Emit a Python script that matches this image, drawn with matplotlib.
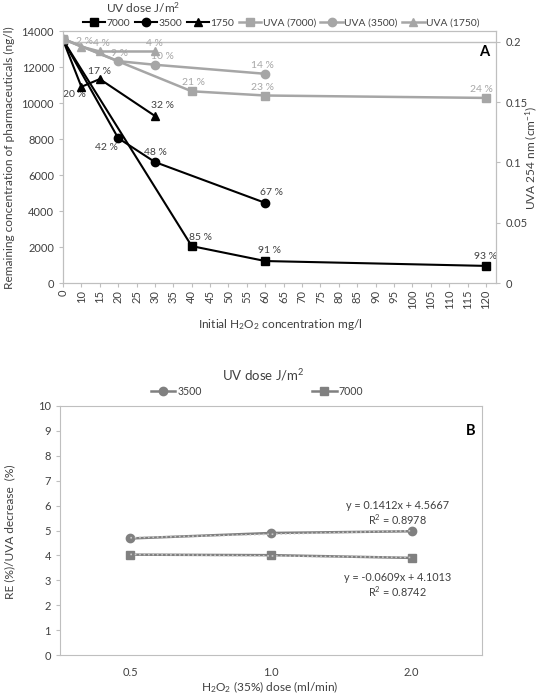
import matplotlib
matplotlib.use("Agg")
import matplotlib.pyplot as plt
from matplotlib.lines import Line2D

plt.rcParams['font.family'] = ['Lato', 'DejaVu Sans']
plt.rcParams['mathtext.fontset'] = 'custom'
plt.rcParams['mathtext.rm'] = 'Lato'
plt.rcParams['mathtext.it'] = 'Lato:italic'
plt.rcParams['mathtext.bf'] = 'Lato:bold'

# ---------------- data: panel A ----------------
cats_A = [0, 10, 15, 20, 25, 30, 35, 40, 45, 50, 55, 60, 65, 70, 75, 80, 85, 90,
          95, 100, 105, 110, 115, 120]

h2o2_7000 = [0, 40, 60, 120]
conc_7000 = [13500, 2050, 1220, 950]
lab_7000 = ['', '85 %', '91 %', '93 %']

h2o2_3500 = [0, 20, 30, 60]
conc_3500 = [13500, 8050, 6720, 4450]
lab_3500 = ['', '42 %', '48 %', '67 %']

h2o2_1750 = [0, 10, 15, 30]
conc_1750 = [13500, 10900, 11330, 9280]
lab_1750 = ['', '20 %', '17 %', '32 %']

uva_7000 = [0.2025, 0.1590, 0.1555, 0.1535]
uva_lab_7000 = ['', '21 %', '23 %', '24 %']
uva_3500 = [0.2025, 0.1840, 0.1810, 0.1735]
uva_lab_3500 = ['', '9 %', '10 %', '14 %']
uva_1750 = [0.2025, 0.1960, 0.1920, 0.1920]
uva_lab_1750 = ['', '2 %', '4 %', '4 %']

# ---------------- data: panel B ----------------
doses_B = ['0.5', '1.0', '2.0']
re_3500 = [4.68, 4.90, 4.97]
re_7000 = [4.03, 4.01, 3.90]
trend_slope = [0.1412, -0.0609]
trend_icpt = [4.5667, 4.1013]
trend_r2 = ['0.8978', '0.8742']

TXT = '#404040'
AX = '#bfbfbf'
LGRAY = '#a6a6a6'
MGRAY = '#808080'
FS = 8.0

fig = plt.figure(figsize=(5.4, 6.97), dpi=100)
W, H = 540.0, 697.0

def fx(px):
    return px / W

def fy(py):
    return 1 - py / H

# ================= Panel A =================
axA = fig.add_axes([fx(63), fy(283), (496 - 63) / W, (283 - 31) / H])
axA2 = axA.twinx()

def pos(vals):
    return [cats_A.index(v) for v in vals]

blk = dict(color='black', lw=1.5, zorder=5)
axA.plot(pos(h2o2_7000), conc_7000, marker='s', ms=6, **blk)
axA.plot(pos(h2o2_3500), conc_3500, marker='o', ms=6, **blk)
axA.plot(pos(h2o2_1750), conc_1750, marker='^', ms=6, **blk)

gry = dict(color=LGRAY, lw=1.8)
axA2.plot(pos(h2o2_7000), uva_7000, marker='s', ms=6, **gry)
axA2.plot(pos(h2o2_3500), uva_3500, marker='o', ms=6, **gry)
axA2.plot(pos(h2o2_1750), uva_1750, marker='^', ms=6, **gry)
axA2.axhline(0.2, color=AX, lw=1.0, zorder=0)

def put_labels(ax, xs, ys, labs, offs, color):
    for x, y, l, o in zip(pos(xs), ys, labs, offs):
        if l:
            ax.annotate(l, (x, y), xytext=o, textcoords='offset pixels',
                        ha='center', va='center', fontsize=7.5, color=color)

put_labels(axA, h2o2_7000, conc_7000, lab_7000, [None, (9, 9), (4, 11), (0, 9)], TXT)
put_labels(axA, h2o2_3500, conc_3500, lab_3500, [None, (-12, -9), (1, 10), (6, 10)], TXT)
put_labels(axA, h2o2_1750, conc_1750, lab_1750, [None, (-7, -8), (0, 8), (8, 10)], TXT)
put_labels(axA2, h2o2_7000, uva_7000, uva_lab_7000, [None, (2, 9), (-3, 8), (-4, 8)], LGRAY)
put_labels(axA2, h2o2_3500, uva_3500, uva_lab_3500, [None, (1, 8), (8, 8), (-3, 8)], LGRAY)
put_labels(axA2, h2o2_1750, uva_1750, uva_lab_1750, [None, (3, 5), (2, 8), (0, 8)], LGRAY)

axA.set_xlim(0, 23.55)
axA.set_ylim(0, 14000)
axA2.set_ylim(0, 0.209)
axA.set_yticks(range(0, 14001, 2000))
axA2.set_yticks([0, 0.05, 0.1, 0.15, 0.2])
axA2.set_yticklabels(['0', '0.05', '0.1', '0.15', '0.2'])
axA.set_xticks(range(len(cats_A)))
axA.set_xticklabels([str(c) for c in cats_A], rotation=90)

for a in (axA, axA2):
    for s in a.spines.values():
        s.set_color(AX)
    a.tick_params(colors=AX, labelcolor=TXT, labelsize=FS, length=3, width=0.8)
axA.tick_params(axis='x', pad=2)
axA2.tick_params(axis='y', pad=4)

fig.text(fx(9), fy(158), 'Remaining concentration of pharmaceuticals (ng/l)', rotation=90,
         ha='center', va='center', fontsize=8.6, color=TXT)
fig.text(fx(531), fy(158), 'UVA 254 nm (cm$^{-1}$)', rotation=90,
         ha='center', va='center', fontsize=8.6, color=TXT)
fig.text(fx(280), fy(325), 'Initial H$_2$O$_2$ concentration mg/l',
         ha='center', va='center', fontsize=8.6, color=TXT)
axA.text(0.973, 0.915, 'A', transform=axA.transAxes, fontsize=10.5, fontweight='bold',
         ha='center', va='center', color='black')

hA = [Line2D([], [], color='black', lw=1.5, marker='s', ms=6),
      Line2D([], [], color='black', lw=1.5, marker='o', ms=6),
      Line2D([], [], color='black', lw=1.5, marker='^', ms=6),
      Line2D([], [], color=LGRAY, lw=1.8, marker='s', ms=6),
      Line2D([], [], color=LGRAY, lw=1.8, marker='o', ms=6),
      Line2D([], [], color=LGRAY, lw=1.8, marker='^', ms=6)]
lA = ['7000', '3500', '1750', 'UVA (7000)', 'UVA (3500)', 'UVA (1750)']
fig.legend(hA, lA, loc='center', bbox_to_anchor=(fx(281), fy(23)), ncol=6,
           frameon=False, handlelength=2.2, handletextpad=0.1, columnspacing=0.45,
           fontsize=7.4, labelcolor=TXT, borderpad=0)
fig.text(fx(143), fy(8), 'UV dose J/m$^2$', ha='center', va='center', fontsize=8.6, color=TXT)

# ================= Panel B =================
axB = fig.add_axes([fx(60), fy(655), (482 - 60) / W, (655 - 406) / H])
xb = list(range(len(doses_B)))
axB.plot(xb, re_3500, color=MGRAY, lw=1.8, marker='o', ms=6, zorder=3)
axB.plot(xb, re_7000, color=MGRAY, lw=1.8, marker='s', ms=6, zorder=3)
for sl, ic in zip(trend_slope, trend_icpt):
    xt = [xb[0], xb[-1]]
    axB.plot(xt, [sl * (x + 1) + ic for x in xt], color='#c8c8c8', lw=1.2, ls=':', zorder=4)

axB.text(1.9, 6.02, 'y = %.4fx + %.4f' % (trend_slope[0], trend_icpt[0]),
         ha='center', va='center', fontsize=7.8, color=TXT)
axB.text(1.9, 5.45, 'R$^2$ = ' + trend_r2[0], ha='center', va='center', fontsize=7.8, color=TXT)
axB.text(1.9, 3.13, 'y = %.4fx + %.4f' % (trend_slope[1], trend_icpt[1]),
         ha='center', va='center', fontsize=7.8, color=TXT)
axB.text(1.9, 2.56, 'R$^2$ = ' + trend_r2[1], ha='center', va='center', fontsize=7.8, color=TXT)

axB.set_xlim(-0.5, 2.5)
axB.set_ylim(0, 10)
axB.set_yticks(range(0, 11))
axB.set_xticks(xb)
axB.set_xticklabels(doses_B)
for s in axB.spines.values():
    s.set_color(AX)
axB.tick_params(colors=AX, labelcolor=TXT, labelsize=FS, length=3, width=0.8)
axB.tick_params(axis='x', length=0, pad=9)
fig.text(fx(10), fy(532), 'RE (%)/UVA decrease  (%)', rotation=90,
         ha='center', va='center', fontsize=8.6, color=TXT)
fig.text(fx(270), fy(687), 'H$_2$O$_2$ (35%) dose (ml/min)',
         ha='center', va='center', fontsize=8.6, color=TXT)
axB.text(0.973, 0.90, 'B', transform=axB.transAxes, fontsize=10.5, fontweight='bold',
         ha='center', va='center', color='black')

hB = [Line2D([], [], color=MGRAY, lw=1.8, marker='o', ms=6),
      Line2D([], [], color=MGRAY, lw=1.8, marker='s', ms=6)]
fig.legend(hB, ['3500', '7000'], loc='center', bbox_to_anchor=(fx(257), fy(391)), ncol=2,
           frameon=False, handlelength=2.3, handletextpad=0.2, columnspacing=10.5,
           fontsize=7.6, labelcolor=TXT, borderpad=0)
fig.text(fx(263), fy(375), 'UV dose J/m$^2$', ha='center', va='center', fontsize=9.5, color=TXT)

fig.savefig('out.png', dpi=100)
